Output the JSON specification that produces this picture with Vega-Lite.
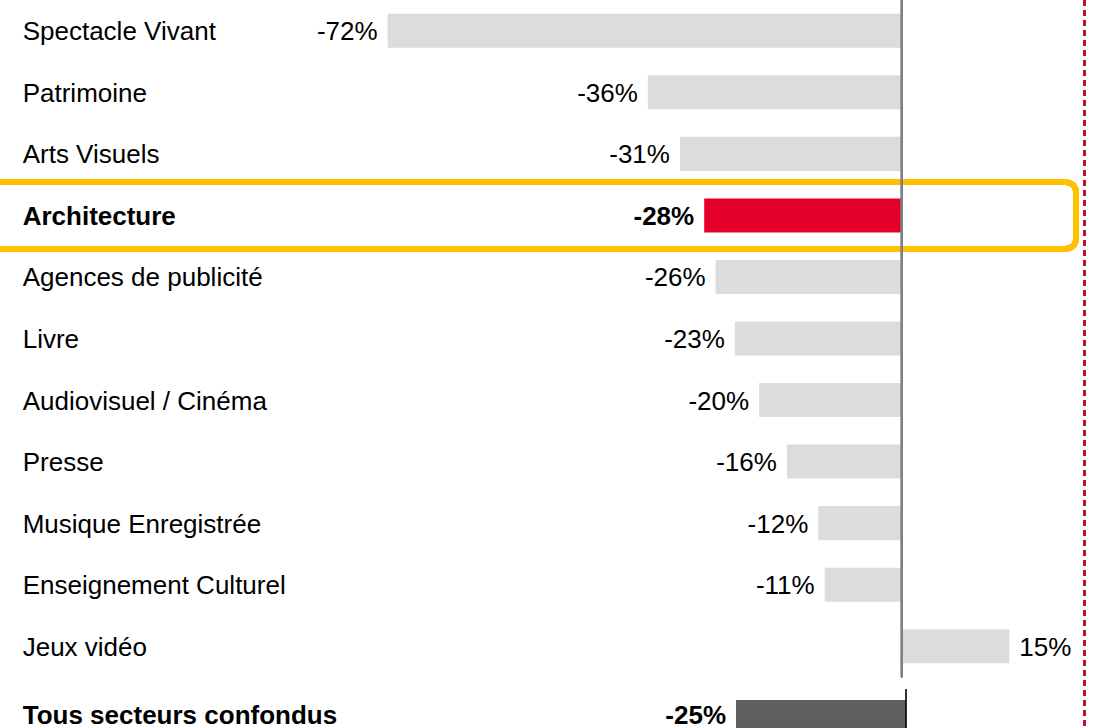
{
  "$schema": "https://vega.github.io/schema/vega-lite/v6.json",
  "width": 1099,
  "height": 728,
  "padding": 0,
  "autosize": {"type": "none"},
  "background": "white",
  "config": {
    "view": {"stroke": null},
    "font": "Liberation Sans",
    "locale": {"number": {"decimal": ".", "thousands": ",", "grouping": [3], "currency": ["", ""], "minus": "-"}}
  },
  "datasets": {
    "main": [
      {"secteur": "Spectacle Vivant", "evolution": -0.721},
      {"secteur": "Patrimoine", "evolution": -0.356},
      {"secteur": "Arts Visuels", "evolution": -0.311},
      {"secteur": "Architecture", "evolution": -0.277},
      {"secteur": "Agences de publicité", "evolution": -0.261},
      {"secteur": "Livre", "evolution": -0.234},
      {"secteur": "Audiovisuel / Cinéma", "evolution": -0.2},
      {"secteur": "Presse", "evolution": -0.161},
      {"secteur": "Musique Enregistrée", "evolution": -0.117},
      {"secteur": "Enseignement Culturel", "evolution": -0.108},
      {"secteur": "Jeux vidéo", "evolution": 0.151}
    ],
    "total": [
      {"secteur": "Tous secteurs confondus", "evolution": -0.25}
    ]
  },
  "layer": [
    {
      "data": {"name": "main"},
      "layer": [
        {
          "mark": {"type": "bar", "height": 66.5, "cornerRadius": 10, "fillOpacity": 0, "stroke": "#FFC000", "strokeWidth": 5.5, "color": "#FFC000"},
          "encoding": {
            "y": {"datum": "Architecture", "type": "nominal", "axis": null},
            "x": {"datum": -1.2927, "type": "quantitative", "axis": null},
            "x2": {"datum": 0.2445}
          }
        },
        {
          "mark": {"type": "bar"},
          "encoding": {
            "y": {"field": "secteur", "type": "nominal", "sort": null,
              "scale": {"domain": ["Spectacle Vivant", "Patrimoine", "Arts Visuels", "Architecture", "Agences de publicité", "Livre", "Audiovisuel / Cinéma", "Presse", "Musique Enregistrée", "Enseignement Culturel", "Jeux vidéo"], "range": [0, 677], "paddingInner": 0.447, "paddingOuter": 0.2235},
              "axis": null
            },
            "x": {"field": "evolution", "type": "quantitative", "scale": {"domain": [-1.2646, 0.2767], "nice": false, "zero": false}, "axis": null},
            "color": {"condition": {"test": "datum.secteur === 'Architecture'", "value": "#E4002B"}, "value": "#DCDCDC"}
          }
        },
        {
          "mark": {"type": "rule", "color": "#808080", "strokeWidth": 1.6},
          "encoding": {
            "x": {"datum": 0, "type": "quantitative", "axis": null},
            "y": {"datum": "Spectacle Vivant", "type": "nominal", "bandPosition": -0.41, "axis": null},
            "y2": {"datum": "Jeux vidéo", "bandPosition": 1.41}
          }
        },
        {
          "transform": [{"filter": "datum.secteur !== 'Architecture'"}],
          "mark": {"type": "text", "align": "left", "baseline": "middle", "dy": 1.5, "fontSize": 26, "color": "#000000"},
          "encoding": {
            "y": {"field": "secteur", "type": "nominal", "axis": null},
            "x": {"datum": -1.2328, "type": "quantitative", "axis": null},
            "text": {"field": "secteur", "type": "nominal"}
          }
        },
        {
          "transform": [{"filter": "datum.secteur === 'Architecture'"}],
          "mark": {"type": "text", "align": "left", "baseline": "middle", "dy": 1.5, "fontSize": 26, "fontWeight": "bold", "color": "#000000"},
          "encoding": {
            "y": {"field": "secteur", "type": "nominal", "axis": null},
            "x": {"datum": -1.2328, "type": "quantitative", "axis": null},
            "text": {"field": "secteur", "type": "nominal"}
          }
        },
        {
          "transform": [{"filter": "datum.evolution < 0 && datum.secteur !== 'Architecture'"}],
          "mark": {"type": "text", "align": "right", "baseline": "middle", "dx": -10, "dy": 1.5, "fontSize": 26, "color": "#000000"},
          "encoding": {
            "y": {"field": "secteur", "type": "nominal", "axis": null},
            "x": {"field": "evolution", "type": "quantitative", "axis": null},
            "text": {"field": "evolution", "type": "quantitative", "format": ".0%"}
          }
        },
        {
          "transform": [{"filter": "datum.secteur === 'Architecture'"}],
          "mark": {"type": "text", "align": "right", "baseline": "middle", "dx": -10, "dy": 1.5, "fontSize": 26, "fontWeight": "bold", "color": "#000000"},
          "encoding": {
            "y": {"field": "secteur", "type": "nominal", "axis": null},
            "x": {"field": "evolution", "type": "quantitative", "axis": null},
            "text": {"field": "evolution", "type": "quantitative", "format": ".0%"}
          }
        },
        {
          "transform": [{"filter": "datum.evolution > 0"}],
          "mark": {"type": "text", "align": "left", "baseline": "middle", "dx": 10, "dy": 1.5, "fontSize": 26, "color": "#000000"},
          "encoding": {
            "y": {"field": "secteur", "type": "nominal", "axis": null},
            "x": {"field": "evolution", "type": "quantitative", "axis": null},
            "text": {"field": "evolution", "type": "quantitative", "format": ".0%"}
          }
        },
        {
          "mark": {"type": "rule", "color": "#C8102E", "strokeWidth": 2.2, "strokeDash": [6, 4]},
          "encoding": {
            "x": {"datum": 0.2561, "type": "quantitative", "axis": null}
          }
        }
      ]
    },
    {
      "data": {"name": "total"},
      "layer": [
        {
          "mark": {"type": "bar", "color": "#5F5F5F"},
          "encoding": {
            "y": {"field": "secteur", "type": "nominal",
              "scale": {"domain": ["Tous secteurs confondus"], "range": [700, 734], "paddingInner": 0, "paddingOuter": 0},
              "axis": null
            },
            "x": {"field": "evolution", "type": "quantitative", "scale": {"domain": [-1.3324, 0.2838], "nice": false, "zero": false}, "axis": null}
          }
        },
        {
          "mark": {"type": "rule", "color": "#000000", "strokeWidth": 1.6},
          "encoding": {
            "x": {"datum": 0, "type": "quantitative", "axis": null},
            "y": {"datum": "Tous secteurs confondus", "type": "nominal", "bandPosition": -0.32, "axis": null},
            "y2": {"datum": "Tous secteurs confondus", "bandPosition": 2}
          }
        },
        {
          "mark": {"type": "text", "align": "left", "baseline": "middle", "dy": -1.5, "fontSize": 26, "fontWeight": "bold", "color": "#000000"},
          "encoding": {
            "y": {"field": "secteur", "type": "nominal", "axis": null},
            "x": {"datum": -1.2990, "type": "quantitative", "axis": null},
            "text": {"field": "secteur", "type": "nominal"}
          }
        },
        {
          "mark": {"type": "text", "align": "right", "baseline": "middle", "dx": -10, "dy": -1.5, "fontSize": 26, "fontWeight": "bold", "color": "#000000"},
          "encoding": {
            "y": {"field": "secteur", "type": "nominal", "axis": null},
            "x": {"field": "evolution", "type": "quantitative", "axis": null},
            "text": {"field": "evolution", "type": "quantitative", "format": ".0%"}
          }
        }
      ]
    }
  ],
  "resolve": {"scale": {"x": "independent", "y": "independent"}}
}
